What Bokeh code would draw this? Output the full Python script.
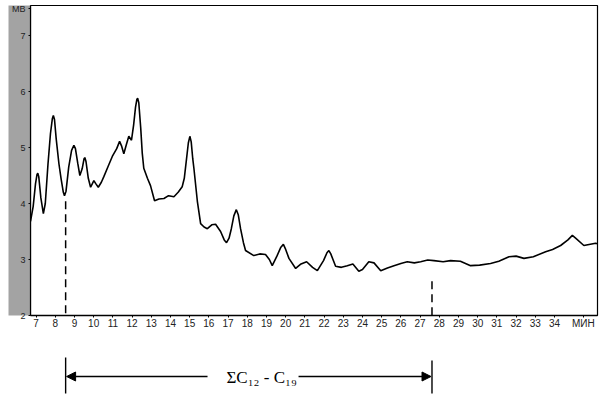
from bokeh.plotting import figure
from bokeh.layouts import column
from bokeh.models import Range1d, FixedTicker, Arrow, NormalHead
from bokeh.core.properties import value
from bokeh.embed import file_html
from bokeh.resources import INLINE

# ---- data (retention time, min ; detector signal, mV) ----
time_min = [6.71, 6.85, 6.97, 7.05, 7.09, 7.14, 7.25, 7.38, 7.48, 7.62, 7.75, 7.85, 7.90,
            7.96, 8.05, 8.19, 8.30, 8.42, 8.48, 8.56, 8.70, 8.85, 8.97, 9.05, 9.17, 9.28,
            9.40, 9.50, 9.54, 9.60, 9.72, 9.84, 10.01, 10.10, 10.24, 10.40, 10.53, 10.75,
            10.97, 11.20, 11.35, 11.45, 11.57, 11.70, 11.83, 11.97, 12.08, 12.18, 12.25,
            12.29, 12.35, 12.45, 12.53, 12.61, 12.80, 12.96, 13.17, 13.40, 13.66, 13.90,
            14.18, 14.40, 14.61, 14.72, 14.83, 14.93, 15.01, 15.08, 15.16, 15.22, 15.40,
            15.57, 15.75, 15.92, 16.15, 16.35, 16.61, 16.80, 16.92, 17.05, 17.17, 17.30,
            17.43, 17.53, 17.65, 17.80, 17.91, 18.34, 18.65, 18.95, 19.15, 19.30, 19.53,
            19.75, 19.88, 20.00, 20.17, 20.52, 20.80, 21.09, 21.40, 21.65, 21.97, 22.15,
            22.25, 22.35, 22.60, 22.90, 23.21, 23.50, 23.81, 24.00, 24.33, 24.60, 24.95,
            25.30, 25.64, 26.00, 26.33, 26.70, 27.03, 27.40, 27.72, 28.20, 28.59, 29.10,
            29.63, 30.10, 30.67, 31.10, 31.63, 32.00, 32.41, 32.90, 33.54, 33.90, 34.32,
            34.70, 34.93, 35.10, 35.53, 36.14, 36.24]
signal_mv = [3.68, 3.95, 4.35, 4.52, 4.54, 4.48, 4.10, 3.82, 4.00, 4.70, 5.25, 5.52, 5.57,
             5.50, 5.15, 4.71, 4.45, 4.20, 4.14, 4.22, 4.65, 4.95, 5.04, 4.98, 4.72, 4.50,
             4.62, 4.80, 4.82, 4.75, 4.45, 4.29, 4.41, 4.36, 4.29, 4.38, 4.48, 4.66,
             4.84, 4.98, 5.11, 5.03, 4.89, 5.05, 5.20, 5.13, 5.40, 5.72, 5.86,
             5.88, 5.80, 5.35, 4.90, 4.63, 4.45, 4.32, 4.05, 4.08, 4.09, 4.14,
             4.12, 4.20, 4.30, 4.45, 4.78, 5.08, 5.20, 5.10, 4.80, 4.63, 4.04,
             3.64, 3.58, 3.55, 3.62, 3.63, 3.50, 3.35, 3.30, 3.38, 3.55, 3.78,
             3.89, 3.80, 3.55, 3.30, 3.16, 3.07, 3.10, 3.09, 3.00, 2.89, 3.05,
             3.22, 3.27, 3.18, 3.02, 2.84, 2.92, 2.96, 2.86, 2.80, 2.98, 3.12,
             3.16, 3.10, 2.88, 2.86, 2.89, 2.92, 2.79, 2.82, 2.96, 2.94, 2.80,
             2.85, 2.89, 2.93, 2.96, 2.94, 2.96, 2.99, 2.98, 2.96, 2.98, 2.97,
             2.89, 2.90, 2.93, 2.97, 3.05, 3.06, 3.02, 3.05, 3.14, 3.18, 3.25,
             3.35, 3.43, 3.38, 3.25, 3.29, 3.28]

x_ticks = [7, 8, 9, 10, 11, 12, 13, 14, 15, 16, 17, 18, 19, 20, 21, 22, 23, 24, 25,
           26, 27, 28, 29, 30, 31, 32, 33, 34, 35.5]
x_unit_label = "МИН"
y_ticks = [2, 3, 4, 5, 6, 7, 7.48]
y_unit_label = "МВ"

c12_time = 8.54      # start of the C12 - C19 window
c12_mark_top = 4.04
c19_time = 27.62     # end of the window
c19_mark_top = 2.61
window_label = "ΣC₁₂ - C₁₉"

Y0, Y1 = 2.0, 7.536

# ---- chromatogram ----
W = 600
p = figure(width=W, height=337, x_range=Range1d(6.71, 36.24), y_range=Range1d(Y0, Y1),
           toolbar_location=None, output_backend="svg",
           min_border_left=30, min_border_right=3, min_border_top=5, min_border_bottom=22)
p.grid.visible = False
p.outline_line_color = "black"
p.outline_line_width = 1.2
p.background_fill_color = "white"

p.line(time_min, signal_mv, line_color="black", line_width=1.6)
p.segment(x0=[c12_time, c19_time], y0=[c12_mark_top, c19_mark_top],
          x1=[c12_time, c19_time], y1=[Y0, Y0],
          line_color="black", line_width=1.5, line_dash="8 5")

xa = p.xaxis[0]
xa.ticker = FixedTicker(ticks=x_ticks)
xa.major_label_overrides = {35.5: x_unit_label}
xa.minor_tick_line_color = None
xa.major_tick_in = 0
xa.major_tick_out = 2
xa.axis_line_color = "black"
xa.axis_line_width = 1.5
xa.major_label_text_font = "Liberation Sans"
xa.major_label_text_font_size = "10px"
xa.major_label_text_color = "#222222"
xa.major_label_standoff = 0

ya = p.yaxis[0]
ya.ticker = FixedTicker(ticks=y_ticks)
ya.major_label_overrides = {7.48: y_unit_label}
ya.minor_tick_line_color = None
ya.major_tick_in = 0
ya.major_tick_out = 2
ya.axis_line_color = "black"
ya.axis_line_width = 1.2
ya.major_label_text_font = "Liberation Sans"
ya.major_label_text_font_size = "9px"
ya.major_label_text_color = "#222222"
ya.major_label_standoff = 3
ya.background_fill_color = "#a3a3a3"

# ---- bracket with the C12 - C19 window ----
p2 = figure(width=W, height=58, x_range=p.x_range, y_range=Range1d(0, 58),
            toolbar_location=None, output_backend="svg",
            min_border_left=30, min_border_right=3, min_border_top=0, min_border_bottom=0)
p2.axis.visible = False
p2.grid.visible = False
p2.outline_line_color = None

p2.segment(x0=[c12_time, c19_time], y0=[2, 2], x1=[c12_time, c19_time], y1=[38, 35],
           line_color="black", line_width=1.4)
p2.add_layout(Arrow(end=NormalHead(size=9, fill_color="black", line_color="black"),
                    x_start=15.93, y_start=19, x_end=c12_time + 0.05, y_end=19,
                    line_color="black", line_width=1.3))
p2.add_layout(Arrow(end=NormalHead(size=9, fill_color="black", line_color="black"),
                    x_start=20.67, y_start=19, x_end=c19_time - 0.05, y_end=19,
                    line_color="black", line_width=1.3))
p2.text(x=[18.75], y=[18], text=[window_label], text_align="center", text_baseline="middle",
        text_font=value("Liberation Serif"), text_font_size="17px", text_color="black")

layout = column(p, p2, spacing=0)
open("out.html", "w").write(file_html(layout, INLINE))
